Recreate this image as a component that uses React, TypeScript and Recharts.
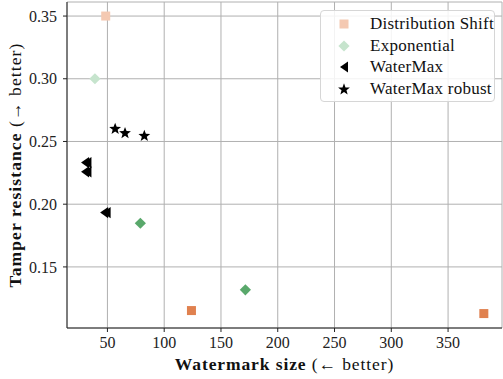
import React from 'react';
import { ScatterChart, Scatter, XAxis, YAxis, CartesianGrid, Cell } from 'recharts';

// ---- data ----
const distShiftX = [48.5, 124, 381.5];
const distShiftY = [0.35, 0.1152, 0.1128];
const exponentialX = [39, 79, 171.5];
const exponentialY = [0.3, 0.1848, 0.1317];
const waterMaxX = [30.3, 30.3, 32.4, 32.4, 47.1, 49.3];
const waterMaxY = [0.2332, 0.2258, 0.2332, 0.2258, 0.1933, 0.1933];
const waterMaxRobustX = [56.8, 65.5, 82.5];
const waterMaxRobustY = [0.2604, 0.257, 0.2548];

const xTicks = [50, 100, 150, 200, 250, 300, 350];
const yTicks = [0.15, 0.2, 0.25, 0.3, 0.35];
const seriesNames = ['Distribution Shift', 'Exponential', 'WaterMax', 'WaterMax robust'];

// ---- styles ----
const FONT = '"Liberation Serif", "DejaVu Serif", serif';
const distShiftColors = ['#f4c9b2', '#e0814f', '#e0814f'];
const exponentialColors = ['#c6e4cd', '#59a86b', '#59a86b'];
const black = '#000000';

const toPoints = (xs: number[], ys: number[]) => xs.map((x, i) => ({ x, y: ys[i] }));

const distShiftData = toPoints(distShiftX, distShiftY);
const exponentialData = toPoints(exponentialX, exponentialY);
const waterMaxData = toPoints(waterMaxX, waterMaxY);
const waterMaxRobustData = toPoints(waterMaxRobustX, waterMaxRobustY);

type Kind = 'square' | 'diamond' | 'triangle' | 'star';

function starPoints(cx: number, cy: number, ro: number, ri: number) {
  const pts: string[] = [];
  for (let i = 0; i < 10; i++) {
    const r = i % 2 === 0 ? ro : ri;
    const a = -Math.PI / 2 + (i * Math.PI) / 5;
    pts.push(`${cx + r * Math.cos(a)},${cy + r * Math.sin(a)}`);
  }
  return pts.join(' ');
}

function Marker({ kind, cx, cy, fill }: { kind: Kind; cx: number; cy: number; fill: string }) {
  if (cx == null || cy == null) return null;
  switch (kind) {
    case 'square':
      return <rect x={cx - 4.5} y={cy - 4.5} width={9} height={9} fill={fill} />;
    case 'diamond':
      return (
        <polygon
          points={`${cx},${cy - 5.6} ${cx + 5.6},${cy} ${cx},${cy + 5.6} ${cx - 5.6},${cy}`}
          fill={fill}
        />
      );
    case 'triangle':
      return (
        <polygon points={`${cx - 4},${cy} ${cx + 4},${cy - 5.6} ${cx + 4},${cy + 5.6}`} fill={fill} />
      );
    case 'star':
      return <polygon points={starPoints(cx, cy + 0.5, 6.2, 2.6)} fill={fill} />;
  }
  return null;
}

const makeShape = (kind: Kind) => (props: any) => (
  <Marker kind={kind} cx={props.cx} cy={props.cy} fill={props.fill} />
);

const legendItems: { kind: Kind; color: string }[] = [
  { kind: 'square', color: distShiftColors[0] },
  { kind: 'diamond', color: exponentialColors[0] },
  { kind: 'triangle', color: black },
  { kind: 'star', color: black },
];

function LegendBox() {
  return (
    <div
      style={{
        position: 'absolute',
        left: 320,
        top: 10,
        width: 175,
        height: 92,
        boxSizing: 'border-box',
        border: '1px solid #d6d6d6',
        borderRadius: 4,
        background: 'rgba(255,255,255,0.85)',
        fontFamily: FONT,
        fontSize: 17,
        letterSpacing: 0.25,
        color: '#111',
        paddingTop: 2,
      }}
    >
      {legendItems.map((it, i) => (
        <div key={i} style={{ height: 21.7, display: 'flex', alignItems: 'center' }}>
          <svg width={49} height={20} style={{ flex: 'none' }}>
            <Marker kind={it.kind} cx={23} cy={10} fill={it.color} />
          </svg>
          <span style={{ whiteSpace: 'nowrap' }}>{seriesNames[i]}</span>
        </div>
      ))}
    </div>
  );
}

const YLabel = (props: any) => {
  const vb = props.viewBox || { x: 0, y: 0, width: 0, height: 0 };
  const cx = 15;
  const cy = vb.y + vb.height / 2;
  return (
    <text
      x={cx}
      y={cy}
      transform={`rotate(-90, ${cx}, ${cy})`}
      textAnchor="middle"
      dominantBaseline="central"
      fontFamily={FONT}
      fontSize={17.5}
      letterSpacing={1.1}
      fill="#111"
    >
      <tspan fontWeight="bold">Tamper resistance</tspan>
      <tspan> (→ better)</tspan>
    </text>
  );
};

const XLabel = (props: any) => {
  const vb = props.viewBox || { x: 0, y: 0, width: 0, height: 0 };
  const cx = vb.x + vb.width / 2;
  return (
    <text
      x={cx}
      y={370}
      textAnchor="middle"
      fontFamily={FONT}
      fontSize={17.5}
      letterSpacing={0.9}
      fill="#111"
    >
      <tspan fontWeight="bold">Watermark size</tspan>
      <tspan> (← better)</tspan>
    </text>
  );
};

const tickStyle = { fontFamily: FONT, fontSize: 16, fill: '#222' };
const spine = { stroke: '#222', strokeWidth: 1 };

export default function App() {
  return (
    <div style={{ position: 'absolute', left: 0, top: 0, width: 503, height: 379, background: '#fff' }}>
      <ScatterChart width={503} height={379} margin={{ top: 2, right: 1, bottom: 0, left: 0 }}>
        <CartesianGrid xAxisId="b" yAxisId="l" stroke="#b0b0b0" strokeWidth={1} />
        <XAxis
          xAxisId="b"
          type="number"
          dataKey="x"
          domain={[14.4, 397.5]}
          ticks={xTicks}
          allowDataOverflow
          height={51}
          axisLine={spine}
          tickLine={spine}
          tickSize={4}
          tickMargin={5}
          tick={tickStyle}
          label={<XLabel />}
        />
        <XAxis
          xAxisId="t"
          orientation="top"
          type="number"
          domain={[14.4, 397.5]}
          height={0}
          tick={false}
          tickLine={false}
          axisLine={spine}
        />
        <YAxis
          yAxisId="l"
          type="number"
          dataKey="y"
          domain={[0.1013, 0.3612]}
          ticks={yTicks}
          allowDataOverflow
          width={67}
          axisLine={spine}
          tickLine={spine}
          tickSize={4}
          tickMargin={6}
          tick={tickStyle}
          tickFormatter={(v: number) => v.toFixed(2)}
          label={<YLabel />}
        />
        <YAxis
          yAxisId="r"
          orientation="right"
          type="number"
          domain={[0.1013, 0.3612]}
          width={0}
          tick={false}
          tickLine={false}
          axisLine={spine}
        />
        <Scatter
          name={seriesNames[0]}
          data={distShiftData}
          xAxisId="b"
          yAxisId="l"
          shape={makeShape('square')}
          isAnimationActive={false}
        >
          {distShiftData.map((_, i) => (
            <Cell key={i} fill={distShiftColors[i]} />
          ))}
        </Scatter>
        <Scatter
          name={seriesNames[1]}
          data={exponentialData}
          xAxisId="b"
          yAxisId="l"
          shape={makeShape('diamond')}
          isAnimationActive={false}
        >
          {exponentialData.map((_, i) => (
            <Cell key={i} fill={exponentialColors[i]} />
          ))}
        </Scatter>
        <Scatter
          name={seriesNames[2]}
          data={waterMaxData}
          xAxisId="b"
          yAxisId="l"
          fill={black}
          shape={makeShape('triangle')}
          isAnimationActive={false}
        />
        <Scatter
          name={seriesNames[3]}
          data={waterMaxRobustData}
          xAxisId="b"
          yAxisId="l"
          fill={black}
          shape={makeShape('star')}
          isAnimationActive={false}
        />
      </ScatterChart>
      <LegendBox />
    </div>
  );
}
